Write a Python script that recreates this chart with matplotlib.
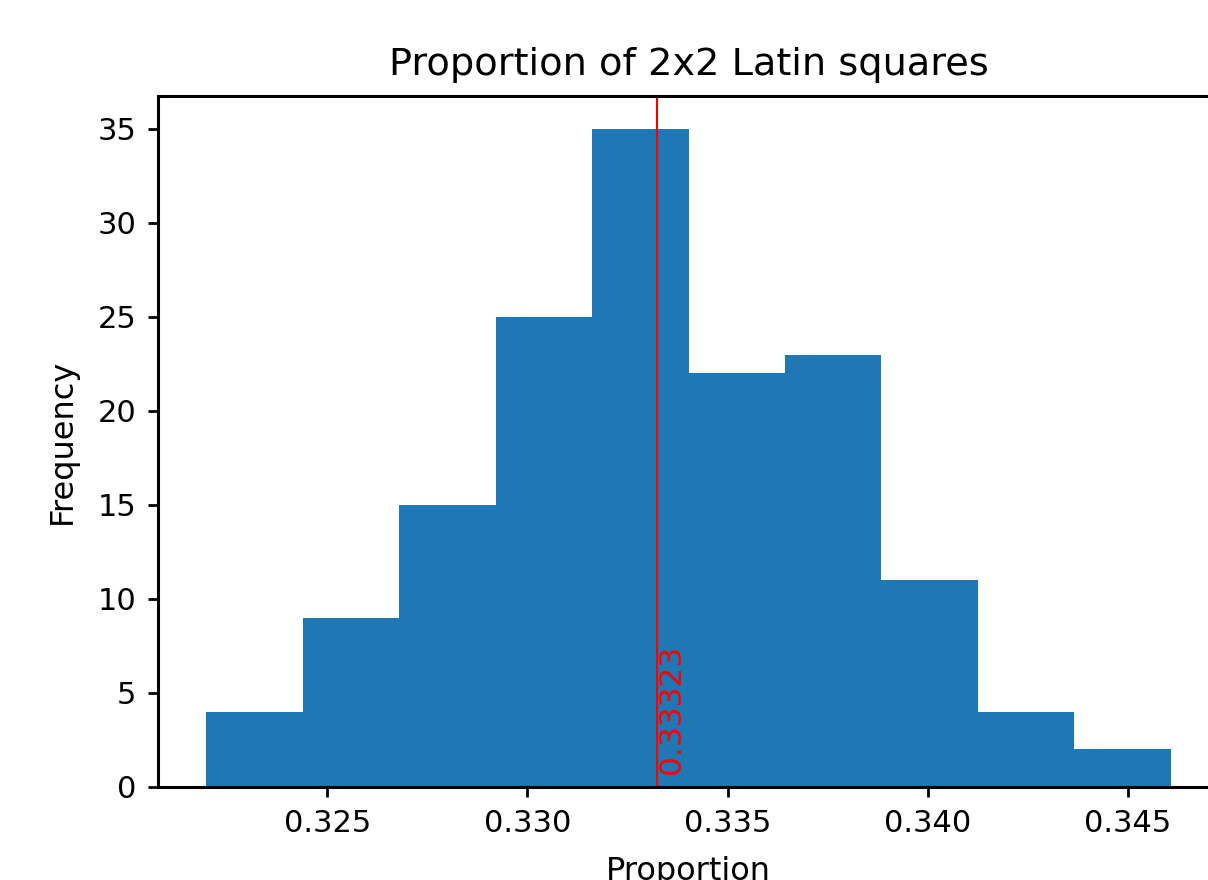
import matplotlib
matplotlib.use("Agg")
import matplotlib.pyplot as plt

# histogram of simulated proportions
bin_edges = [0.32198, 0.32439, 0.32680, 0.32921, 0.33162, 0.33403,
             0.33643, 0.33884, 0.34125, 0.34366, 0.34607]
counts = [4, 9, 15, 25, 35, 22, 23, 11, 4, 2]
mean_value = 0.33323

plt.rcParams.update({
    "font.size": 22,
    "axes.linewidth": 2.2,
    "xtick.major.size": 7.5,
    "ytick.major.size": 7.5,
    "xtick.major.width": 2.0,
    "ytick.major.width": 2.0,
    "xtick.major.pad": 8,
    "ytick.major.pad": 8,
})

fig = plt.figure(figsize=(12.08, 8.8), dpi=100)
ax = fig.add_axes([0.1308, 0.1057, 0.8783, 0.7852])

ax.hist(bin_edges[:-1], bins=bin_edges, weights=counts, color="#1f77b4")
ax.axvline(mean_value, color="red", linewidth=1.5)
ax.text(mean_value, 0.7, str(mean_value), rotation=90, color="red",
        ha="left", va="bottom", fontsize=22.5)

ax.set_title("Proportion of 2x2 Latin squares", fontsize=27.5, pad=15)
ax.set_xlabel("Proportion", labelpad=13, fontsize=23)
ax.set_ylabel("Frequency", labelpad=14, fontsize=23)

fig.savefig("out.png", dpi=100)
plt.close(fig)
